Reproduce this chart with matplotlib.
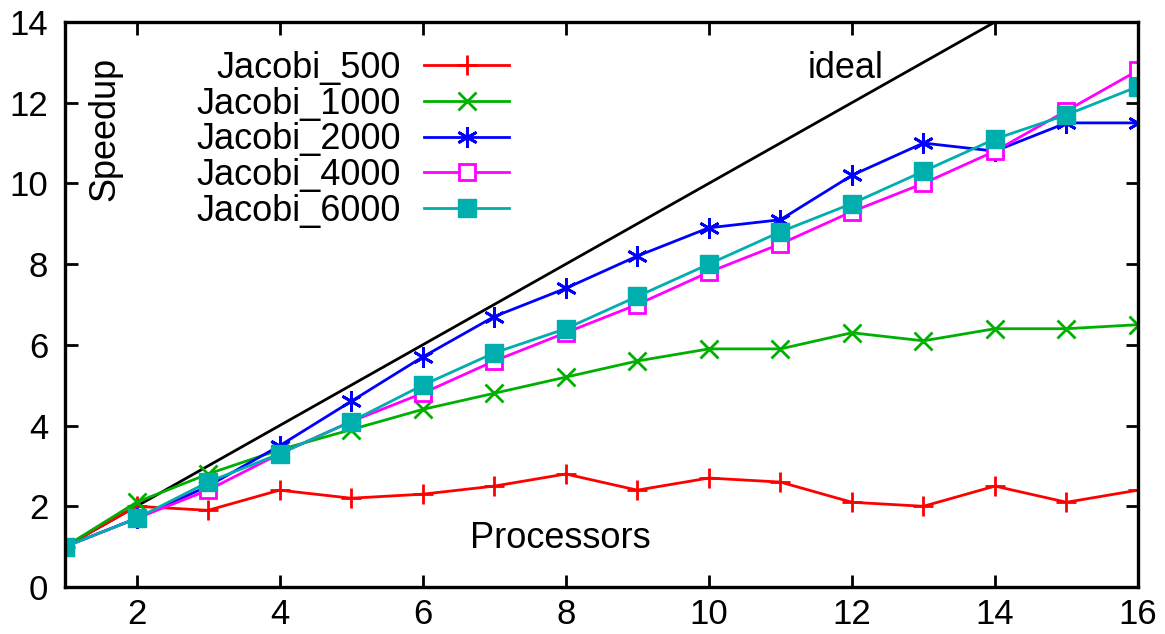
import matplotlib
matplotlib.use("Agg")
import matplotlib.pyplot as plt

plt.rcParams["font.family"] = ["Liberation Sans", "DejaVu Sans"]

# Data
processors = list(range(1, 17))
jacobi_500 = [1, 2.0, 1.9, 2.4, 2.2, 2.3, 2.5, 2.8, 2.4, 2.7, 2.6, 2.1, 2.0, 2.5, 2.1, 2.4]
jacobi_1000 = [1, 2.1, 2.8, 3.4, 3.9, 4.4, 4.8, 5.2, 5.6, 5.9, 5.9, 6.3, 6.1, 6.4, 6.4, 6.5]
jacobi_2000 = [1, 1.7, 2.5, 3.5, 4.6, 5.7, 6.7, 7.4, 8.2, 8.9, 9.1, 10.2, 11.0, 10.8, 11.5, 11.5]
jacobi_4000 = [1, 1.7, 2.4, 3.3, 4.1, 4.8, 5.6, 6.3, 7.0, 7.8, 8.5, 9.3, 10.0, 10.8, 11.8, 12.8]
jacobi_6000 = [1, 1.7, 2.6, 3.3, 4.1, 5.0, 5.8, 6.4, 7.2, 8.0, 8.8, 9.5, 10.3, 11.1, 11.7, 12.4]
ideal_x = [1, 14]
ideal_y = [1, 14]

fig = plt.figure(figsize=(11.65, 6.34), dpi=100)
ax = fig.add_axes([65 / 1165, 1 - 587 / 634, (1138 - 65) / 1165, (587 - 22) / 634])

lw = 2.0
ax.plot(ideal_x, ideal_y, color="black", lw=lw)
h1, = ax.plot(processors, jacobi_500, color="#ff0000", lw=lw, marker="+", ms=15, mew=2)
h2, = ax.plot(processors, jacobi_1000, color="#00b000", lw=lw, marker="x", ms=13, mew=2)
h3, = ax.plot(processors, jacobi_2000, color="#0000ff", lw=lw, marker=(6, 2, 0), ms=15, mew=2)
h4, = ax.plot(processors, jacobi_4000, color="#ff00ff", lw=lw, marker="s", ms=12, mew=2,
              mfc="white")
h5, = ax.plot(processors, jacobi_6000, color="#00aeae", lw=lw, marker="s", ms=13, mew=1)

ax.set_xlim(1, 16)
ax.set_ylim(0, 14)
ax.set_xticks(range(2, 17, 2))
ax.set_yticks(range(0, 15, 2))
ax.tick_params(direction="in", length=9, width=2, labelsize=25,
               top=True, right=True)
ax.tick_params(axis="y", pad=12)
ax.tick_params(axis="x", pad=8)
for s in ax.spines.values():
    s.set_linewidth(2.4)

ax.text(0.037, 0.81, "Speedup", rotation=90, transform=ax.transAxes,
        fontsize=26, ha="center", va="center")
ax.text(0.462, 0.085, "Processors", transform=ax.transAxes,
        fontsize=26, ha="center", va="center")
ax.text(0.727, 0.918, "ideal", transform=ax.transAxes,
        fontsize=26, ha="center", va="center")

ax.legend([h1, h2, h3, h4, h5],
          ["Jacobi_500", "Jacobi_1000", "Jacobi_2000", "Jacobi_4000", "Jacobi_6000"],
          loc="upper right", bbox_to_anchor=(0.431, 0.981), markerfirst=False,
          frameon=False, fontsize=26, handlelength=2.36, handletextpad=0.64,
          labelspacing=0.02, borderpad=0)

plt.savefig("out.png", dpi=100)
